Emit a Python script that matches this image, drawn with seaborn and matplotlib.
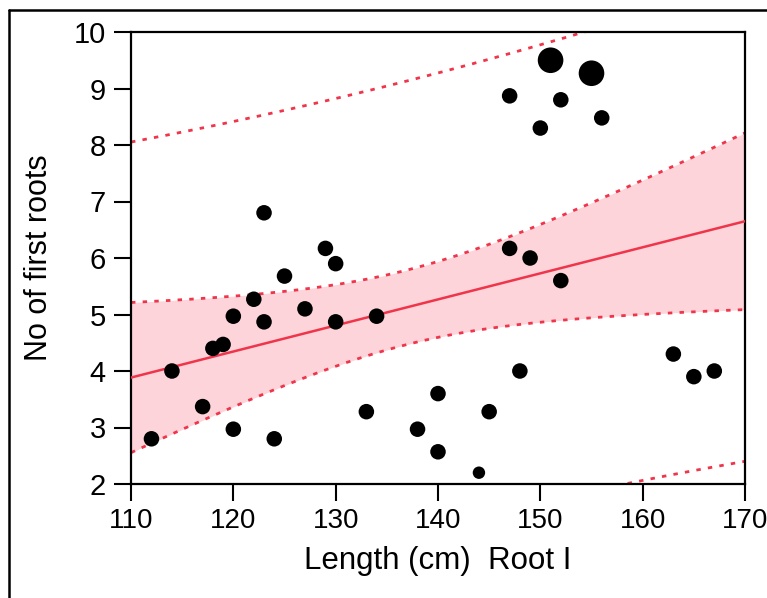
import numpy as np
import pandas as pd
import matplotlib
matplotlib.use("Agg")
import matplotlib.pyplot as plt
import seaborn as sns
from matplotlib.lines import Line2D

# ---- data ----
length_cm = [112, 114, 117, 118, 119, 120, 120, 122, 123, 123, 124, 125, 127, 129,
             130, 130, 133, 134, 138, 140, 140, 144, 145, 147, 147, 148, 149, 150,
             151, 152, 152, 155, 156, 163, 165, 167]
first_roots = [2.8, 4.0, 3.37, 4.4, 4.47, 4.97, 2.97, 5.27, 6.8, 4.87, 2.8, 5.68, 5.1, 6.17,
               5.9, 4.87, 3.28, 4.97, 2.97, 3.6, 2.57, 2.2, 3.28, 8.87, 6.17, 4.0, 6.0, 8.3,
               9.5, 8.8, 5.6, 9.27, 8.48, 4.3, 3.9, 4.0]
point_weight = ["n", "n", "n", "n", "n", "n", "n", "n", "n", "n", "n", "n", "n", "n",
                "n", "n", "n", "n", "n", "n", "n", "s", "n", "n", "n", "n", "n", "n",
                "b", "n", "n", "b", "n", "n", "n", "n"]
x_ticks = [110, 120, 130, 140, 150, 160, 170]
y_ticks = [2, 3, 4, 5, 6, 7, 8, 9, 10]
x_label = "Length (cm)  Root I"
y_label = "No of first roots"

df = pd.DataFrame({"x": length_cm, "y": first_roots, "w": point_weight})

sns.set_style("ticks")
plt.rcParams["font.family"] = ["Liberation Sans", "DejaVu Sans"]

fig = plt.figure(figsize=(7.67, 5.98), dpi=100)
ax = fig.add_axes([131 / 767, 1 - 484 / 598, (745 - 131) / 767, (484 - 32) / 598])

# ---- OLS fit with 95% confidence and prediction intervals ----
x = np.asarray(length_cm, float)
y = np.asarray(first_roots, float)
n = len(x)
slope, intercept = np.polyfit(x, y, 1)
resid = y - (slope * x + intercept)
s = np.sqrt(np.sum(resid ** 2) / (n - 2))
xm = x.mean()
sxx = np.sum((x - xm) ** 2)
t = 2.032  # t(0.975, df=34)
xs = np.linspace(110, 170, 300)
ys = slope * xs + intercept
ci = t * s * np.sqrt(1 / n + (xs - xm) ** 2 / sxx)
pi = t * s * np.sqrt(1 + 1 / n + (xs - xm) ** 2 / sxx)

red = "#F0354B"
ax.fill_between(xs, ys - ci, ys + ci, color="#FCD4DA", lw=0, zorder=1)
dash = (0, (1.6, 2.6))
for yy in (ys - ci, ys + ci, ys - pi, ys + pi):
    ax.plot(xs, yy, color=red, lw=2.0, ls=dash, zorder=2)
sns.lineplot(x=xs, y=ys, color=red, lw=1.8, ax=ax, zorder=3)

sns.scatterplot(data=df, x="x", y="y", size="w",
                sizes={"n": 125, "b": 340, "s": 80},
                color="black", edgecolor="black", linewidth=0,
                legend=False, ax=ax, zorder=4)

ax.set_xlim(110, 170)
ax.set_ylim(2, 10)
ax.set_xticks(x_ticks)
ax.set_yticks(y_ticks)
ax.set_xticklabels([str(v) for v in x_ticks], fontsize=20)
ax.set_yticklabels([str(v) for v in y_ticks], fontsize=21)
ax.tick_params(axis="both", direction="out", length=12, width=1.5, color="black",
               labelcolor="black")
ax.tick_params(axis="x", pad=5)
ax.tick_params(axis="y", pad=6)
for sp in ax.spines.values():
    sp.set_visible(True)
    sp.set_linewidth(1.6)
    sp.set_color("black")

ax.set_xlabel(x_label, fontsize=22.5, labelpad=9, color="black")
ax.set_ylabel(y_label, fontsize=22, labelpad=14, color="black")

# figure frame (top and left edges visible)
fig.add_artist(Line2D([8.5 / 767, 1.0], [1 - 9.5 / 598, 1 - 9.5 / 598],
                      transform=fig.transFigure, color="black", lw=1.8))
fig.add_artist(Line2D([8.5 / 767, 8.5 / 767], [1 - 9.5 / 598, 0.0],
                      transform=fig.transFigure, color="black", lw=1.8))

fig.savefig("out.png", dpi=100)
